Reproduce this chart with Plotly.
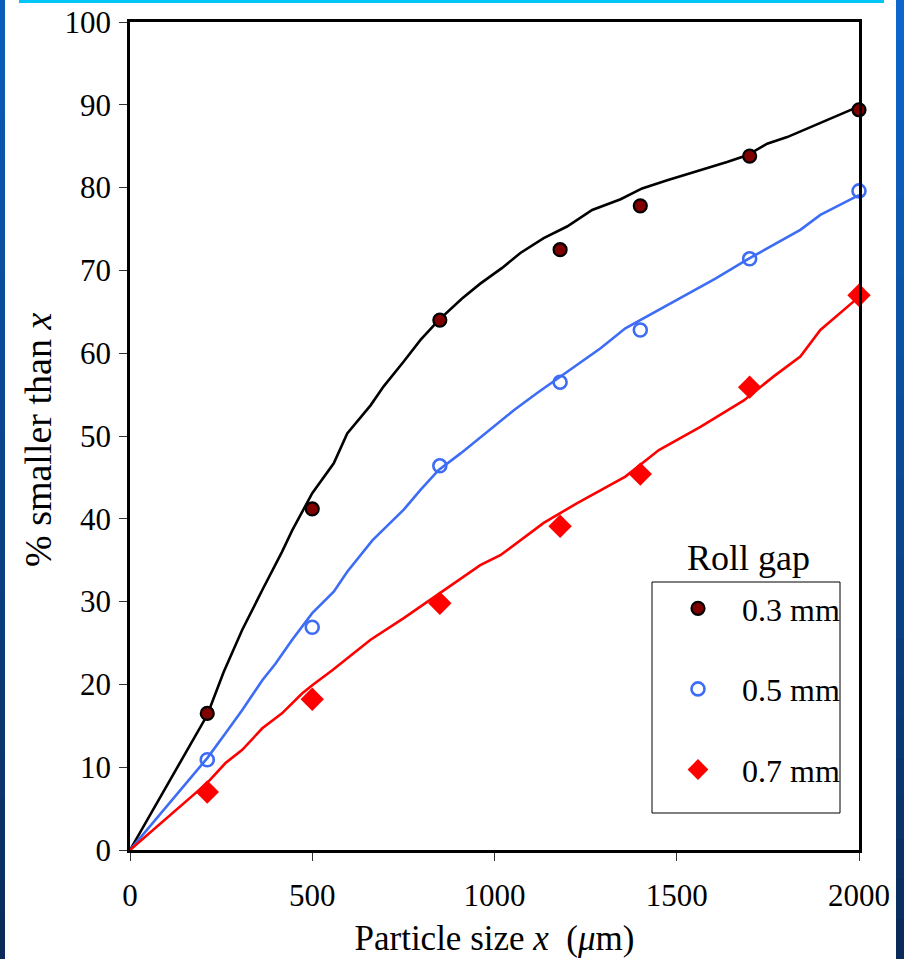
import plotly.graph_objects as go

# Sieve analysis: cumulative % passing at each screen size (µm)
sizes = [212, 500, 850, 1180, 1400, 1700, 2000]
passing_03 = [16.5, 41.2, 64.0, 72.5, 77.8, 83.8, 89.4]
passing_05 = [10.9, 26.9, 46.4, 56.5, 62.8, 71.4, 79.6]
passing_07 = [7.0, 18.2, 29.8, 39.1, 45.4, 55.9, 67.0]

# Model curves for each roll gap
fit_x_03 = [0, 212, 257, 308, 363, 417, 445, 500, 559, 596, 660, 696, 751, 797, 847,
            911, 961, 1021, 1071, 1135, 1199, 1268, 1346, 1405, 1474, 1565, 1638,
            1693, 1748, 1803, 1894, 2000]
fit_y_03 = [0, 16.3, 21.5, 26.6, 31.4, 36.0, 38.6, 43.1, 46.7, 50.3, 53.7, 56.0, 59.0,
            61.6, 64.0, 66.6, 68.4, 70.3, 72.1, 73.9, 75.3, 77.3, 78.6, 79.9, 80.9,
            82.1, 83.1, 83.9, 85.3, 86.1, 87.8, 89.8]

fit_x_05 = [0, 212, 262, 308, 363, 399, 445, 500, 559, 596, 665, 751, 797, 847, 907,
            980, 1053, 1117, 1181, 1227, 1272, 1291, 1359, 1451, 1501, 1556, 1606,
            1693, 1757, 1839, 1894, 2000]
fit_y_05 = [0, 11.1, 14.1, 16.9, 20.5, 22.5, 25.4, 28.6, 31.2, 33.6, 37.4, 41.1, 43.5,
            45.9, 47.9, 50.5, 53.1, 55.2, 57.2, 58.6, 60.0, 60.6, 63.0, 65.2, 66.4,
            67.8, 69.0, 71.3, 72.9, 74.9, 76.7, 79.1]

fit_x_07 = [0, 212, 262, 308, 363, 417, 472, 500, 555, 628, 660, 751, 843, 907, 961,
            1016, 1071, 1135, 1227, 1291, 1359, 1451, 1565, 1684, 1766, 1839, 1894,
            2000]
fit_y_07 = [0, 8.1, 10.5, 12.1, 14.7, 16.5, 18.9, 19.9, 21.7, 24.2, 25.4, 28.0, 30.8,
            32.8, 34.4, 35.6, 37.4, 39.5, 41.9, 43.5, 45.1, 48.3, 51.1, 54.3, 57.2,
            59.6, 62.8, 66.8]

x_ticks = [0, 500, 1000, 1500, 2000]
y_ticks = list(range(0, 101, 10))
gap_labels = ["0.3 mm", "0.5 mm", "0.7 mm"]

W, H = 904, 959
ML, MR, MT, MB = 130, 45, 22, 109
PW, PH = W - ML - MR, H - MT - MB


def px(p):
    return (p - ML) / PW


def py(p):
    return 1 - (p - MT) / PH


SERIF = "Liberation Serif, Times New Roman, serif"
BLUE = "#3d6cf5"

fig = go.Figure()

line_specs = [(fit_x_03, fit_y_03, "black"),
              (fit_x_05, fit_y_05, BLUE),
              (fit_x_07, fit_y_07, "#ff0000")]
for fx, fy, col in line_specs:
    fig.add_trace(go.Scatter(x=fx, y=fy, mode="lines", showlegend=False,
                             line=dict(color=col, width=2.6), hoverinfo="skip"))

marker_specs = [
    (passing_03, dict(symbol="circle", size=13, color="#800000",
                      line=dict(color="black", width=2.2))),
    (passing_05, dict(symbol="circle-open", size=13, color=BLUE,
                      line=dict(color=BLUE, width=2.6))),
    (passing_07, dict(symbol="diamond", size=18, color="#ff0000",
                      line=dict(width=0))),
]
for i, (vals, mk) in enumerate(marker_specs):
    fig.add_trace(go.Scatter(x=sizes, y=vals, mode="markers", name=gap_labels[i],
                             legendgroup=gap_labels[i], marker=mk, cliponaxis=False))

axis_common = dict(showline=True, mirror=True, linecolor="black", showgrid=False,
                   zeroline=False, ticks="outside", tickcolor="#333333", tickwidth=1,
                   ticklen=8, tickfont=dict(family=SERIF, size=31, color="black"))

fig.update_xaxes(range=[0, 2000], tickvals=x_ticks, linewidth=3,
                 ticklabelstandoff=8,
                 title=dict(text="Particle size <i>x</i>  (<i>μ</i>m)",
                            font=dict(family=SERIF, size=35, color="black"),
                            standoff=14),
                 **axis_common)
fig.update_yaxes(range=[0, 100], tickvals=y_ticks, linewidth=2.5,
                 ticklabelstandoff=2,
                 **axis_common)

shapes = []
# legend frame
shapes.append(dict(type="rect", xref="paper", yref="paper",
                   x0=px(652), x1=px(840), y0=py(813), y1=py(582),
                   line=dict(color="black", width=1), fillcolor="rgba(0,0,0,0)"))


def blend(c1, c2, t):
    a = [int(c1[i:i + 2], 16) for i in (1, 3, 5)]
    b = [int(c2[i:i + 2], 16) for i in (1, 3, 5)]
    return "#" + "".join(f"{round(a[k] + (b[k] - a[k]) * t):02x}" for k in range(3))


# page frame: blue side bars shading downward, cyan strip on top
n = 24
for k in range(n):
    t = k / (n - 1)
    y_top = H * k / n
    y_bot = H * (k + 1) / n + 1
    shapes.append(dict(type="rect", xref="paper", yref="paper",
                       x0=px(0), x1=px(5), y0=py(y_bot), y1=py(y_top),
                       fillcolor=blend("#0b5cba", "#0a2b5a", t), line=dict(width=0),
                       layer="above"))
    shapes.append(dict(type="rect", xref="paper", yref="paper",
                       x0=px(896), x1=px(904), y0=py(y_bot), y1=py(y_top),
                       fillcolor=blend("#0c66cc", "#0a2b5a", t), line=dict(width=0),
                       layer="above"))
shapes.append(dict(type="rect", xref="paper", yref="paper",
                   x0=px(19), x1=px(884), y0=py(3), y1=py(0),
                   fillcolor="#00c6f8", line=dict(width=0), layer="above"))

annotations = [
    dict(text="Roll gap", xref="paper", yref="paper",
         x=px(748), y=py(558), xanchor="center", yanchor="middle", showarrow=False,
         font=dict(family=SERIF, size=36, color="black")),
    # vertical axis title
    dict(text="% smaller than <i>x</i>", xref="paper", yref="paper",
         x=px(38), y=py(440), xanchor="center", yanchor="middle", showarrow=False,
         textangle=-90, font=dict(family=SERIF, size=38, color="black")),
]

fig.update_layout(
    width=W, height=H,
    margin=dict(l=ML, r=MR, t=MT, b=MB, autoexpand=False),
    paper_bgcolor="white", plot_bgcolor="white",
    font=dict(family=SERIF, color="black"),
    shapes=shapes,
    showlegend=True,
    legend=dict(x=px(654), y=py(581), xanchor="left", yanchor="top",
                bgcolor="rgba(0,0,0,0)", borderwidth=0,
                font=dict(family=SERIF, size=32, color="black"),
                itemwidth=78, tracegroupgap=36),
    annotations=annotations,
)

fig.write_html("out.html")
